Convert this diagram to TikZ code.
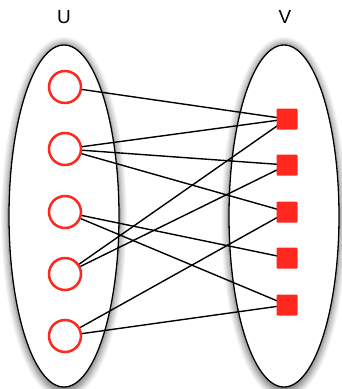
\documentclass[tikz,border=0pt]{standalone}
\usepackage{fontspec}
\setmainfont{Liberation Sans}
\usetikzlibrary{shadows.blur}
\definecolor{nodered}{RGB}{255,40,30}
\tikzset{
  setshape/.style={draw=black, line width=1.3pt, fill=white, blur shadow={shadow xshift=0pt, shadow yshift=-2pt, shadow scale=1.02, shadow blur radius=7pt, shadow blur steps=12, shadow opacity=60}},
  unode/.style={circle, draw=nodered, line width=2.5pt, fill=white, minimum size=32pt, inner sep=0pt},
  vnode/.style={rectangle, fill=nodered, rounded corners=1pt, minimum size=21pt, inner sep=0pt},
  edge/.style={draw=black, line width=1.4pt},
  lbl/.style={font=\fontsize{19}{19}\selectfont}
}
\begin{document}
\begin{tikzpicture}[x=1pt,y=-1pt]
\useasboundingbox (0,0) rectangle (341,389);
\draw[setshape] (64,216) ellipse [x radius=55, y radius=171];
\draw[setshape] (284,216) ellipse [x radius=55, y radius=171];
\node[lbl] (labU) at (64,17) {U};
\node[lbl] (labV) at (285,17) {V};
\node[unode] (u1) at (65,87) {};
\node[unode] (u2) at (65,149) {};
\node[unode] (u3) at (65,212) {};
\node[unode] (u4) at (65,274) {};
\node[unode] (u5) at (65,336) {};
\coordinate (v1) at (287,119);
\coordinate (v2) at (287,165);
\coordinate (v3) at (287,212);
\coordinate (v4) at (287,258);
\coordinate (v5) at (287,305);
\draw[edge] (u1) -- (v1);
\draw[edge] (u2) -- (v1);
\draw[edge] (u2) -- (v2);
\draw[edge] (u2) -- (v3);
\draw[edge] (u3) -- (v4);
\draw[edge] (u3) -- (v5);
\draw[edge] (u4) -- (v1);
\draw[edge] (u4) -- (v2);
\draw[edge] (u5) -- (v3);
\draw[edge] (u5) -- (v5);
\node[vnode] (sv1) at (v1) {};
\node[vnode] (sv2) at (v2) {};
\node[vnode] (sv3) at (v3) {};
\node[vnode] (sv4) at (v4) {};
\node[vnode] (sv5) at (v5) {};
\end{tikzpicture}
\end{document}
